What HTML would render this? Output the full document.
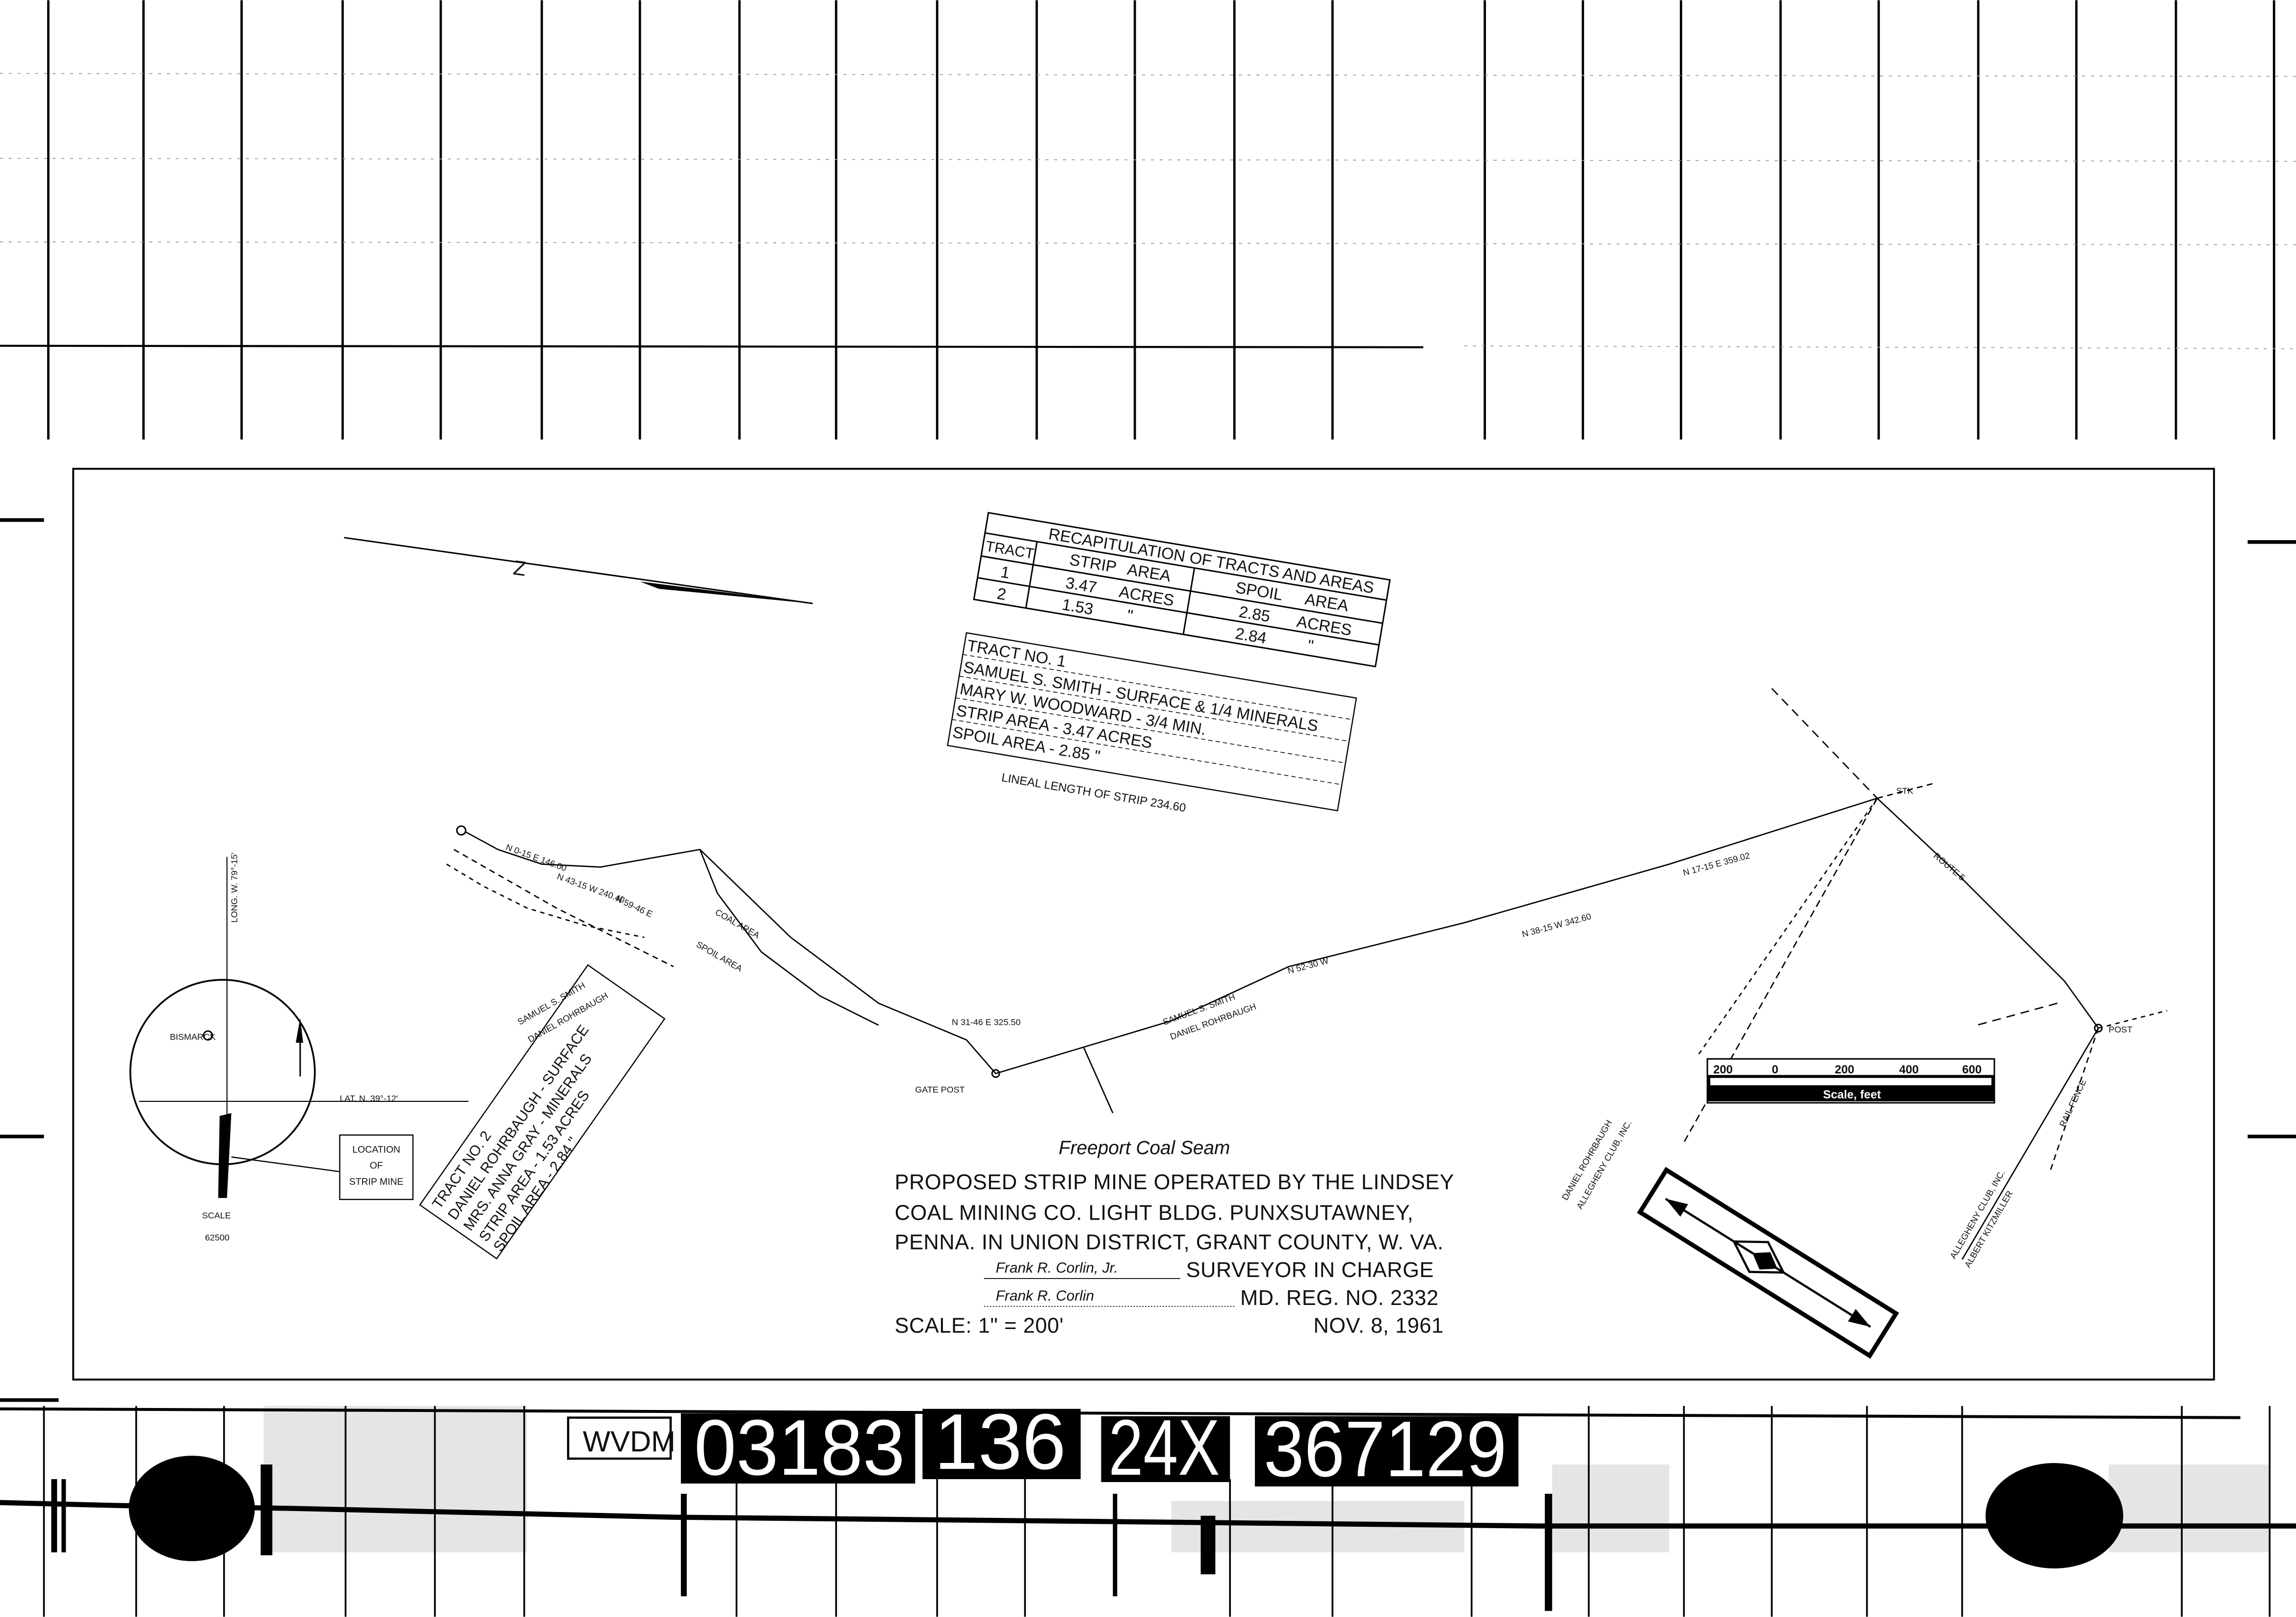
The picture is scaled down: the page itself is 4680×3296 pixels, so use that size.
<!DOCTYPE html>
<html><head><meta charset="utf-8"><style>
html,body{margin:0;padding:0;background:#fff;}
svg{display:block;}
text{font-family:"Liberation Sans",sans-serif;fill:#111;}
</style></head><body>
<svg width="4680" height="3296" viewBox="0 0 1568 1104" xmlns="http://www.w3.org/2000/svg">
<rect width="1568" height="1104" fill="#fff"/>
<g stroke="#000" stroke-width="1.6">
<line x1="33" y1="0" x2="33" y2="300"/><line x1="98" y1="0" x2="98" y2="300"/><line x1="165" y1="0" x2="165" y2="300"/>
<line x1="234" y1="0" x2="234" y2="300"/><line x1="301" y1="0" x2="301" y2="300"/><line x1="370" y1="0" x2="370" y2="300"/>
<line x1="437" y1="0" x2="437" y2="300"/><line x1="505" y1="0" x2="505" y2="300"/><line x1="571" y1="0" x2="571" y2="300"/>
<line x1="640" y1="0" x2="640" y2="300"/><line x1="708" y1="0" x2="708" y2="300"/><line x1="775" y1="0" x2="775" y2="300"/>
<line x1="843" y1="0" x2="843" y2="300"/><line x1="910" y1="0" x2="910" y2="300"/>
<line x1="1014" y1="0" x2="1014" y2="300"/><line x1="1081" y1="0" x2="1081" y2="300"/><line x1="1148" y1="0" x2="1148" y2="300"/>
<line x1="1216" y1="0" x2="1216" y2="300"/><line x1="1283" y1="0" x2="1283" y2="300"/><line x1="1351" y1="0" x2="1351" y2="300"/>
<line x1="1418" y1="0" x2="1418" y2="300"/><line x1="1486" y1="0" x2="1486" y2="300"/><line x1="1553" y1="0" x2="1553" y2="300"/>
</g>
<line x1="0" y1="236" x2="972" y2="237" stroke="#000" stroke-width="1.4"/>
<g stroke="#999" stroke-width="0.6" stroke-dasharray="2 4">
<line x1="0" y1="50" x2="1568" y2="52"/><line x1="0" y1="108" x2="1568" y2="110"/><line x1="0" y1="165" x2="1568" y2="167"/>
<line x1="1000" y1="236" x2="1568" y2="238"/>
</g>
<g stroke="#000" stroke-width="2.5">
<line x1="0" y1="355" x2="30" y2="355"/><line x1="0" y1="776" x2="30" y2="776"/><line x1="0" y1="956" x2="40" y2="956"/>
<line x1="1535" y1="370" x2="1568" y2="370"/><line x1="1535" y1="776" x2="1568" y2="776"/>
</g>
<rect x="50" y="320" width="1462" height="622" fill="none" stroke="#000" stroke-width="1.3"/>

<line x1="235" y1="367" x2="555" y2="412" stroke="#000" stroke-width="1"/>
<path d="M437 397 L555 412 L450 402 Z" fill="#000"/>
<text x="350" y="392" font-size="14" transform="rotate(8 350 392)">Z</text>

<g transform="rotate(9.5 675 350)" stroke="#000" stroke-width="1" fill="none">
<rect x="675" y="350" width="278" height="60"/>
<line x1="675" y1="364" x2="953" y2="364"/><line x1="675" y1="380" x2="953" y2="380"/><line x1="675" y1="395" x2="953" y2="395"/>
<line x1="711" y1="364" x2="711" y2="410"/><line x1="820" y1="364" x2="820" y2="410"/>
</g>
<g transform="rotate(9.5 675 350)" font-size="11">
<text x="718" y="361">RECAPITULATION OF TRACTS AND AREAS</text>
<text x="677" y="376" font-size="10">TRACT</text><text x="735" y="376">STRIP</text><text x="775" y="376">AREA</text>
<text x="850" y="376">SPOIL</text><text x="898" y="376">AREA</text>
<text x="690" y="392">1</text><text x="735" y="392">3.47</text><text x="772" y="392">ACRES</text><text x="855" y="392">2.85</text><text x="895" y="392">ACRES</text>
<text x="690" y="407">2</text><text x="735" y="407">1.53</text><text x="780" y="407">"</text><text x="855" y="407">2.84</text><text x="905" y="407">"</text>
</g>
<g transform="rotate(9.5 660 432)">
<rect x="660" y="432" width="270" height="78" fill="none" stroke="#000" stroke-width="0.8"/>
<g stroke="#000" stroke-width="0.5" stroke-dasharray="3 2"><line x1="660" y1="447" x2="930" y2="447"/><line x1="660" y1="462" x2="930" y2="462"/><line x1="660" y1="477" x2="930" y2="477"/><line x1="660" y1="492" x2="930" y2="492"/></g>
<g font-size="11"><text x="662" y="444">TRACT NO. 1</text><text x="662" y="459">SAMUEL S. SMITH - SURFACE &amp; 1/4 MINERALS</text>
<text x="662" y="474">MARY W. WOODWARD - 3/4 MIN.</text><text x="662" y="489">STRIP AREA - 3.47 ACRES</text><text x="662" y="504">SPOIL AREA - 2.85 "</text></g>
<text x="700" y="528" font-size="8">LINEAL LENGTH OF STRIP 234.60</text>
</g>

<g stroke="#000" stroke-width="0.9" fill="none">
<polyline points="318,568 340,580 370,590 410,592 478,580 540,640 600,685 660,710 680,733 740,715 800,697 880,660 1000,630 1140,590 1282,545"/>
<polyline points="310,580 345,600 380,620 420,640 460,660" stroke-dasharray="4 3"/>
<polyline points="305,590 330,605 360,620 400,632 440,640" stroke-dasharray="3 3"/>
<polyline points="478,580 490,610 520,650 560,680 600,700"/>
<polyline points="1282,545 1330,590 1380,640 1410,670 1433,702"/>
<line x1="1210" y1="470" x2="1282" y2="545" stroke-dasharray="6 4"/>
<line x1="1282" y1="545" x2="1150" y2="780" stroke-dasharray="5 3"/>
<line x1="1282" y1="545" x2="1320" y2="535" stroke-dasharray="4 3"/>
<line x1="1433" y1="702" x2="1400" y2="800" stroke-dasharray="4 3"/>
<line x1="1405" y1="685" x2="1350" y2="700" stroke-dasharray="6 4"/>
<line x1="1433" y1="702" x2="1480" y2="690" stroke-dasharray="3 3"/>
<line x1="1433" y1="702" x2="1340" y2="860"/>
<line x1="1282" y1="545" x2="1160" y2="720" stroke-dasharray="3 3"/>
<line x1="740" y1="715" x2="760" y2="760"/>
</g>
<circle cx="315" cy="567" r="3" fill="none" stroke="#000"/>
<circle cx="680" cy="733" r="2.5" fill="none" stroke="#000"/>
<circle cx="1433" cy="702" r="2.5" fill="none" stroke="#000"/>
<g font-size="6">
<text x="625" y="746">GATE POST</text><text x="1440" y="705">POST</text><text x="1295" y="542">STK</text>
<text x="488" y="624" transform="rotate(30 488 624)">COAL AREA</text>
<text x="475" y="646" transform="rotate(30 475 646)">SPOIL AREA</text>
<text x="345" y="580" transform="rotate(20 345 580)">N 0-15 E 146.00</text>
<text x="380" y="600" transform="rotate(20 380 600)">N 43-15 W 240.40</text>
<text x="420" y="615" transform="rotate(25 420 615)">N 59-46 E</text>
<text x="355" y="700" transform="rotate(-30 355 700)">SAMUEL S. SMITH</text>
<text x="362" y="712" transform="rotate(-30 362 712)">DANIEL ROHRBAUGH</text>
<text x="795" y="700" transform="rotate(-20 795 700)">SAMUEL S. SMITH</text>
<text x="800" y="710" transform="rotate(-20 800 710)">DANIEL ROHRBAUGH</text>
<text x="1070" y="820" transform="rotate(-60 1070 820)">DANIEL ROHRBAUGH</text>
<text x="1080" y="826" transform="rotate(-60 1080 826)">ALLEGHENY CLUB, INC.</text>
<text x="1335" y="860" transform="rotate(-60 1335 860)">ALLEGHENY CLUB, INC.</text>
<text x="1345" y="866" transform="rotate(-60 1345 866)">ALBERT KITZMILLER</text>
<text x="1410" y="770" transform="rotate(-65 1410 770)">RAIL FENCE</text>
<text x="1320" y="585" transform="rotate(40 1320 585)">ROUTE 5</text>
<text x="1040" y="640" transform="rotate(-15 1040 640)">N 38-15 W 342.60</text>
<text x="1150" y="598" transform="rotate(-15 1150 598)">N 17-15 E 359.02</text>
<text x="880" y="665" transform="rotate(-15 880 665)">N 52-30 W</text>
<text x="650" y="700">N 31-46 E 325.50</text>
</g>

<circle cx="152" cy="732" r="63" fill="none" stroke="#000" stroke-width="1.2"/>
<line x1="155" y1="585" x2="155" y2="790" stroke="#000" stroke-width="0.7"/>
<line x1="95" y1="752" x2="320" y2="752" stroke="#000" stroke-width="0.7"/>
<circle cx="142" cy="707" r="3" fill="none" stroke="#000"/>
<path d="M150 762 L158 760 L155 818 L149 818 Z" fill="#000"/>
<line x1="158" y1="790" x2="232" y2="800" stroke="#000" stroke-width="0.8"/>
<path d="M202 712 L205 695 L207 712 Z" fill="#000"/><line x1="205" y1="712" x2="205" y2="735" stroke="#000"/>
<g font-size="6"><text x="116" y="710">BISMARCK</text><text x="232" y="752">LAT. N. 39°-12'</text>
<text x="162" y="630" transform="rotate(-90 162 630)">LONG. W. 79°-15'</text>
<text x="138" y="832">SCALE</text><text x="140" y="847">62500</text></g>
<rect x="232" y="775" width="50" height="44" fill="none" stroke="#000" stroke-width="0.8"/>
<g font-size="6.5" text-anchor="middle"><text x="257" y="787">LOCATION</text><text x="257" y="798">OF</text><text x="257" y="809">STRIP MINE</text></g>

<g transform="rotate(-55 340 860)">
<rect x="340" y="795" width="200" height="64" fill="none" stroke="#000" stroke-width="0.8"/>
<g font-size="10"><text x="345" y="808">TRACT NO. 2</text><text x="345" y="821">DANIEL ROHRBAUGH - SURFACE</text>
<text x="345" y="834">MRS. ANNA GRAY - MINERALS</text><text x="345" y="847">STRIP AREA - 1.53 ACRES</text><text x="345" y="859">SPOIL AREA - 2.84 "</text></g>
</g>

<rect x="1166" y="723" width="196" height="30" fill="#fff" stroke="#000" stroke-width="1"/>
<rect x="1166" y="734" width="196" height="18" fill="#000"/>
<rect x="1168" y="736" width="192" height="5" fill="#fff"/>
<g font-size="8" font-weight="bold"><text x="1170" y="733">200</text><text x="1210" y="733">0</text><text x="1253" y="733">200</text><text x="1297" y="733">400</text><text x="1340" y="733">600</text>
<text x="1245" y="750" style="fill:#fff">Scale, feet</text></g>

<text x="723" y="788" font-size="13" font-family="'Liberation Serif',serif" font-style="italic">Freeport Coal Seam</text>
<g font-size="14.5" letter-spacing="0.2">
<text x="611" y="812">PROPOSED STRIP MINE OPERATED BY THE LINDSEY</text>
<text x="611" y="833">COAL MINING CO. LIGHT BLDG. PUNXSUTAWNEY,</text>
<text x="611" y="853">PENNA. IN UNION DISTRICT, GRANT COUNTY, W. VA.</text>
<text x="810" y="872">SURVEYOR IN CHARGE</text>
<text x="847" y="891">MD. REG. NO. 2332</text>
<text x="611" y="910">SCALE: 1" = 200'</text>
<text x="897" y="910">NOV. 8, 1961</text>
</g>
<g font-size="10" font-style="italic" font-family="'Liberation Serif',serif"><text x="680" y="869">Frank R. Corlin, Jr.</text><text x="680" y="888">Frank R. Corlin</text></g>
<line x1="672" y1="873" x2="806" y2="873" stroke="#000" stroke-width="0.6"/>
<line x1="672" y1="892" x2="843" y2="892" stroke="#000" stroke-width="0.5" stroke-dasharray="1 1"/>

<g transform="rotate(32 1207 862)">
<rect x="1115" y="845" width="185" height="34" fill="#fff" stroke="#000" stroke-width="3"/>
<line x1="1125" y1="862" x2="1290" y2="862" stroke="#000" stroke-width="1.5"/>
<path d="M1200 850 L1220 862 L1200 874 L1180 862Z" fill="none" stroke="#000" stroke-width="1.5"/>
<path d="M1205 855 L1215 862 L1205 869 L1195 862Z" fill="#000"/>
<path d="M1140 857 L1125 862 L1140 867Z" fill="#000"/><path d="M1275 857 L1290 862 L1275 867Z" fill="#000"/>
</g>

<g stroke="#000" stroke-width="1.2">
<line x1="30" y1="960" x2="30" y2="1104"/><line x1="93" y1="960" x2="93" y2="1104"/><line x1="153" y1="960" x2="153" y2="1104"/>
<line x1="236" y1="960" x2="236" y2="1104"/><line x1="297" y1="960" x2="297" y2="1104"/><line x1="358" y1="960" x2="358" y2="1104"/>
<line x1="503" y1="1010" x2="503" y2="1104"/><line x1="571" y1="1010" x2="571" y2="1104"/><line x1="640" y1="1010" x2="640" y2="1104"/>
<line x1="700" y1="1010" x2="700" y2="1104"/><line x1="840" y1="1010" x2="840" y2="1104"/><line x1="910" y1="1010" x2="910" y2="1104"/>
<line x1="1005" y1="1010" x2="1005" y2="1104"/><line x1="1085" y1="960" x2="1085" y2="1104"/><line x1="1150" y1="960" x2="1150" y2="1104"/>
<line x1="1210" y1="960" x2="1210" y2="1104"/><line x1="1275" y1="960" x2="1275" y2="1104"/><line x1="1340" y1="960" x2="1340" y2="1104"/>
<line x1="1490" y1="960" x2="1490" y2="1104"/><line x1="1550" y1="960" x2="1550" y2="1104"/>
</g>
<line x1="0" y1="962" x2="1530" y2="968" stroke="#000" stroke-width="2"/>
<polyline points="0,1026 80,1028 200,1030 460,1036 760,1039 1050,1042 1568,1042" fill="none" stroke="#000" stroke-width="3.5"/>
<g fill="#000" opacity="0.1"><rect x="180" y="960" width="180" height="100"/><rect x="1060" y="1000" width="80" height="60"/><rect x="1440" y="1000" width="110" height="60"/><rect x="800" y="1025" width="200" height="35"/></g>
<g fill="#000">
<rect x="35" y="1010" width="4" height="50"/><rect x="42" y="1010" width="3" height="50"/>
<rect x="178" y="1000" width="8" height="62"/>
<rect x="465" y="1020" width="4" height="70"/><rect x="760" y="1020" width="3" height="70"/><rect x="1055" y="1020" width="5" height="80"/>
<rect x="820" y="1035" width="10" height="40"/>
<ellipse cx="131" cy="1030" rx="43" ry="36"/>
<ellipse cx="1403" cy="1035" rx="47" ry="36"/>
</g>
<rect x="388" y="968" width="70" height="28" fill="#fff" stroke="#000" stroke-width="1.5"/>
<text x="398" y="991" font-size="20">WVDM</text>
<rect x="465" y="965" width="160" height="48" fill="#000"/>
<rect x="630" y="962" width="108" height="48" fill="#000"/>
<rect x="752" y="967" width="88" height="45" fill="#000"/>
<rect x="857" y="967" width="180" height="48" fill="#000"/>
<g font-size="54">
<text x="474" y="1007" style="fill:#fff" textLength="144" lengthAdjust="spacingAndGlyphs">03183</text>
<text x="638" y="1003" style="fill:#fff" textLength="90" lengthAdjust="spacingAndGlyphs">136</text>
<text x="757" y="1007" style="fill:#fff" textLength="76" lengthAdjust="spacingAndGlyphs">24X</text>
<text x="863" y="1008" style="fill:#fff" textLength="166" lengthAdjust="spacingAndGlyphs">367129</text>
</g>
</svg>
</body></html>
